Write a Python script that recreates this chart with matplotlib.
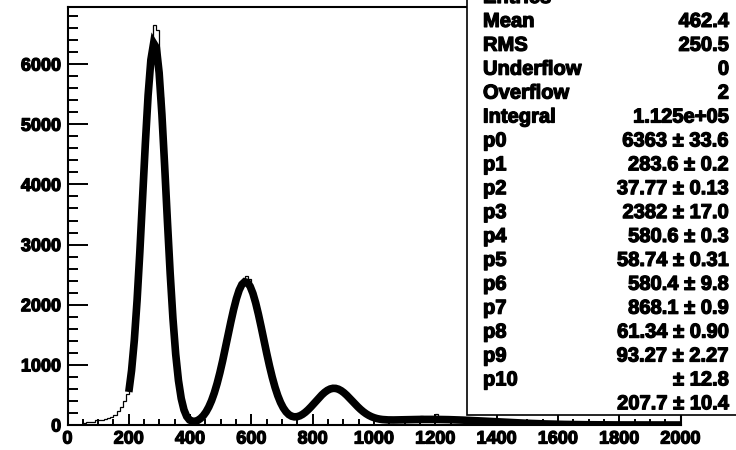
import numpy as np
import matplotlib
matplotlib.use("Agg")
import matplotlib.pyplot as plt
import matplotlib.patheffects as pe
from matplotlib.patches import Rectangle
from matplotlib.ticker import MultipleLocator

# histogram: 200 bins of width 10 from 0 to 2000
bin_lo = 0
bin_hi = 2000
counts = [
    0, 0, 0, 0, 0, 38, 45, 52, 58, 75,
    82, 88, 95, 110, 140, 170, 225, 300, 400, 520,
    740, 1230, 1900, 2790, 3760, 4790, 5650, 6200, 6650, 6560,
    5450, 4510, 3490, 2530, 1700, 1068, 626, 343, 182, 98,
    63, 60, 78, 112, 166, 242, 344, 473, 634, 824,
    1041, 1276, 1522, 1761, 1982, 2166, 2300, 2371, 2480, 2420,
    2185, 2007, 1790, 1551, 1306, 1069, 852, 659, 504, 376,
    277, 208, 163, 140, 134, 146, 171, 207, 253, 305,
    362, 420, 474, 524, 566, 594, 610, 609, 593, 564,
    523, 474, 421, 367, 313, 265, 222, 184, 154, 130,
    113, 101, 92, 87, 84, 84, 83, 84, 85, 86,
    87, 89, 90, 140, 92, 150, 93, 93, 130, 93,
    185, 92, 91, 90, 89, 87, 85, 83, 81, 79,
    78, 75, 73, 70, 68, 65, 62, 60, 57, 55,
    52, 49, 47, 44, 42, 39, 37, 34, 32, 30,
    27, 25, 23, 21, 20, 18, 16, 15, 13, 12,
    11, 10, 9, 8, 7, 7, 6, 5, 5, 4,
    4, 3, 3, 3, 2, 2, 2, 1, 1, 1,
    1, 1, 1, 1, 1, 0, 0, 0, 0, 0,
    0, 0, 0, 0, 0, 0, 0, 0, 0, 0,
]

# fit: 4 gaussians (amplitude, mean, sigma), range 200-2000
gaus_amp = [6363, 2382, 580.4, 93.27]
gaus_mean = [283.6, 580.6, 868.1, 1180]
gaus_sigma = [37.77, 58.74, 61.34, 207.7]
fit_lo, fit_hi = 200, 2000
fit_npx = 200

stat_labels = ["Entries", "Mean", "RMS", "Underflow", "Overflow", "Integral",
               "p0", "p1", "p2", "p3", "p4", "p5", "p6", "p7", "p8", "p9", "p10", ""]
stat_values = ["", "462.4", "250.5", "0", "2", "1.125e+05",
               "6363 \u00b1 33.6", "283.6 \u00b1 0.2", "37.77 \u00b1 0.13",
               "2382 \u00b1 17.0", "580.6 \u00b1 0.3", "58.74 \u00b1 0.31",
               "580.4 \u00b1 9.8", "868.1 \u00b1 0.9", "61.34 \u00b1 0.90",
               "93.27 \u00b1 2.27", "\u00b1 12.8", "207.7 \u00b1 10.4"]

W, H = 736, 450
FONT = "Liberation Sans"
heavy = [pe.withStroke(linewidth=0.9, foreground="black")]

fig = plt.figure(figsize=(W / 100, H / 100), dpi=100)
ax = fig.add_axes([67.5 / W, 1 - 425 / H, (680.5 - 67.5) / W, (425 - 7) / H])

edges = np.linspace(bin_lo, bin_hi, len(counts) + 1)
ax.stairs(counts, edges, color="black", lw=0.9, zorder=2)

# function drawn like ROOT: sampled at npx points
xf = np.linspace(fit_lo, fit_hi, fit_npx + 1)
yf = np.zeros_like(xf)
for a, m, s in zip(gaus_amp, gaus_mean, gaus_sigma):
    yf += a * np.exp(-0.5 * ((xf - m) / s) ** 2)
ax.plot(xf, yf, color="black", lw=5.5, solid_capstyle="butt",
        solid_joinstyle="miter", zorder=3)

ax.set_xlim(0, 2000)
ax.set_ylim(0, 6950)
ax.xaxis.set_major_locator(MultipleLocator(200))
ax.xaxis.set_minor_locator(MultipleLocator(50))
ax.yaxis.set_major_locator(MultipleLocator(1000))
ax.yaxis.set_minor_locator(MultipleLocator(200))
ax.tick_params(axis="both", which="both", direction="in", width=1.4, color="black")
ax.tick_params(axis="x", which="major", length=8, pad=4)
ax.tick_params(axis="x", which="minor", length=4)
ax.tick_params(axis="y", which="major", length=14.5, pad=4.5)
ax.tick_params(axis="y", which="minor", length=7.5)
for lab in ax.get_xticklabels() + ax.get_yticklabels():
    lab.set_fontfamily(FONT)
    lab.set_fontweight("bold")
    lab.set_fontsize(13)
    lab.set_path_effects(heavy)
for sp in ax.spines.values():
    sp.set_linewidth(1.5)

# stats box (extends past the canvas edge)
x0 = 467 / W
fig.patches.append(Rectangle((x0, 1 - 415 / H), 0.6, 1.0, transform=fig.transFigure,
                             fc="white", ec="black", lw=1.2, zorder=10))
for i, (lab, val) in enumerate(zip(stat_labels, stat_values)):
    yb = 1 - (3 + 23.9 * i) / H
    fig.text(483 / W, yb, lab, ha="left", va="baseline", fontsize=14.5,
             fontweight="bold", fontfamily=FONT, zorder=11, path_effects=heavy)
    fig.text(729 / W, yb, val, ha="right", va="baseline", fontsize=14.5,
             fontweight="bold", fontfamily=FONT, zorder=11, path_effects=heavy)

fig.savefig("out.png", dpi=100)
